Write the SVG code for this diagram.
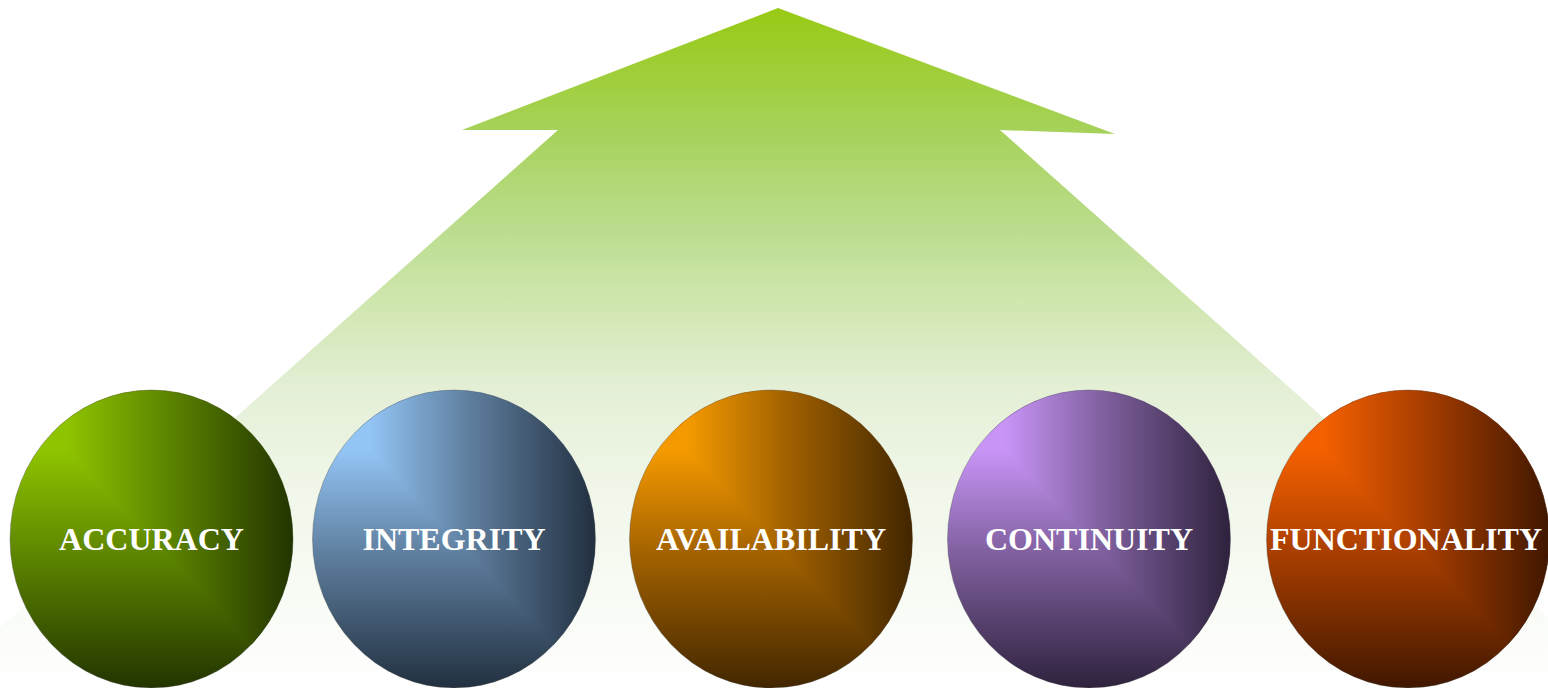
<svg xmlns="http://www.w3.org/2000/svg" width="1548" height="688" viewBox="0 0 1548 688">
  <style>
    .label { font-family: "Liberation Serif", "Times New Roman", serif; font-weight: bold; font-size: 32px; fill: #ffffff; text-anchor: middle; }
    .rim { fill: none; stroke: #4a4a4a; stroke-opacity: 0.35; stroke-width: 1; }
  </style>
  <defs>
    <linearGradient id="arrowFill" gradientUnits="userSpaceOnUse" x1="0" y1="8" x2="0" y2="688">
      <stop offset="0" stop-color="#98ca14"/>
      <stop offset="0.18" stop-color="#a6d25a"/>
      <stop offset="0.33" stop-color="#bcdd90"/>
      <stop offset="0.43" stop-color="#cfe6ae"/>
      <stop offset="0.56" stop-color="#e4efd6"/>
      <stop offset="0.72" stop-color="#f1f7ea"/>
      <stop offset="1" stop-color="#ffffff"/>
    </linearGradient>
    <clipPath id="disc" clipPathUnits="userSpaceOnUse">
      <ellipse cx="0" cy="0" rx="141.5" ry="149"/>
    </clipPath>
    <!-- green -->
    <linearGradient id="gH1" x1="0" y1="0" x2="1" y2="0"><stop offset="0" stop-color="#8cc000"/><stop offset="0.2" stop-color="#8fc400"/><stop offset="0.55" stop-color="#5e8600"/><stop offset="1" stop-color="#223400"/></linearGradient>
    <linearGradient id="gV1" x1="0" y1="0" x2="0" y2="1"><stop offset="0" stop-color="#8cc000"/><stop offset="0.2" stop-color="#8fc400"/><stop offset="0.55" stop-color="#5e8600"/><stop offset="1" stop-color="#223400"/></linearGradient>
    <!-- blue -->
    <linearGradient id="gH2" x1="0" y1="0" x2="1" y2="0"><stop offset="0" stop-color="#8fc0f0"/><stop offset="0.2" stop-color="#93c5f5"/><stop offset="0.55" stop-color="#5f7f9f"/><stop offset="1" stop-color="#223040"/></linearGradient>
    <linearGradient id="gV2" x1="0" y1="0" x2="0" y2="1"><stop offset="0" stop-color="#8fc0f0"/><stop offset="0.2" stop-color="#93c5f5"/><stop offset="0.55" stop-color="#5f7f9f"/><stop offset="1" stop-color="#223040"/></linearGradient>
    <!-- orange -->
    <linearGradient id="gH3" x1="0" y1="0" x2="1" y2="0"><stop offset="0" stop-color="#f09400"/><stop offset="0.2" stop-color="#f59a00"/><stop offset="0.55" stop-color="#a36200"/><stop offset="1" stop-color="#422600"/></linearGradient>
    <linearGradient id="gV3" x1="0" y1="0" x2="0" y2="1"><stop offset="0" stop-color="#f09400"/><stop offset="0.2" stop-color="#f59a00"/><stop offset="0.55" stop-color="#a36200"/><stop offset="1" stop-color="#422600"/></linearGradient>
    <!-- purple -->
    <linearGradient id="gH4" x1="0" y1="0" x2="1" y2="0"><stop offset="0" stop-color="#c490f2"/><stop offset="0.2" stop-color="#c895f7"/><stop offset="0.55" stop-color="#80609f"/><stop offset="1" stop-color="#2e223d"/></linearGradient>
    <linearGradient id="gV4" x1="0" y1="0" x2="0" y2="1"><stop offset="0" stop-color="#c490f2"/><stop offset="0.2" stop-color="#c895f7"/><stop offset="0.55" stop-color="#80609f"/><stop offset="1" stop-color="#2e223d"/></linearGradient>
    <!-- red-orange -->
    <linearGradient id="gH5" x1="0" y1="0" x2="1" y2="0"><stop offset="0" stop-color="#f05c00"/><stop offset="0.2" stop-color="#f56000"/><stop offset="0.55" stop-color="#a83e00"/><stop offset="1" stop-color="#401700"/></linearGradient>
    <linearGradient id="gV5" x1="0" y1="0" x2="0" y2="1"><stop offset="0" stop-color="#f05c00"/><stop offset="0.2" stop-color="#f56000"/><stop offset="0.55" stop-color="#a83e00"/><stop offset="1" stop-color="#401700"/></linearGradient>
  </defs>

  <rect x="0" y="0" width="1548" height="688" fill="#ffffff"/>

  <g id="connectors">
    <path id="big-arrow" d="M778,8 L1115,134 L1000,130 L1627,688 L-68,688 L558,130 L462,130 Z" fill="url(#arrowFill)"/>
  </g>

  <g id="node-accuracy" transform="translate(151.5,539)">
    <ellipse cx="0" cy="0" rx="141.5" ry="149" fill="url(#gV1)"/>
    <path d="M-141.5,-149 L141.5,-149 L141.5,149 Z" fill="url(#gH1)" clip-path="url(#disc)"/>
    <ellipse class="rim" cx="0" cy="0" rx="141.5" ry="149"/>
    <text class="label" x="0" y="11">ACCURACY</text>
  </g>

  <g id="node-integrity" transform="translate(454,539)">
    <ellipse cx="0" cy="0" rx="141.5" ry="149" fill="url(#gV2)"/>
    <path d="M-141.5,-149 L141.5,-149 L141.5,149 Z" fill="url(#gH2)" clip-path="url(#disc)"/>
    <ellipse class="rim" cx="0" cy="0" rx="141.5" ry="149"/>
    <text class="label" x="0" y="11">INTEGRITY</text>
  </g>

  <g id="node-availability" transform="translate(771,539)">
    <ellipse cx="0" cy="0" rx="141.5" ry="149" fill="url(#gV3)"/>
    <path d="M-141.5,-149 L141.5,-149 L141.5,149 Z" fill="url(#gH3)" clip-path="url(#disc)"/>
    <ellipse class="rim" cx="0" cy="0" rx="141.5" ry="149"/>
    <text class="label" x="0" y="11">AVAILABILITY</text>
  </g>

  <g id="node-continuity" transform="translate(1089,539)">
    <ellipse cx="0" cy="0" rx="141.5" ry="149" fill="url(#gV4)"/>
    <path d="M-141.5,-149 L141.5,-149 L141.5,149 Z" fill="url(#gH4)" clip-path="url(#disc)"/>
    <ellipse class="rim" cx="0" cy="0" rx="141.5" ry="149"/>
    <text class="label" x="0" y="11">CONTINUITY</text>
  </g>

  <g id="node-functionality" transform="translate(1408,539)">
    <ellipse cx="0" cy="0" rx="141.5" ry="149" fill="url(#gV5)"/>
    <path d="M-141.5,-149 L141.5,-149 L141.5,149 Z" fill="url(#gH5)" clip-path="url(#disc)"/>
    <ellipse class="rim" cx="0" cy="0" rx="141.5" ry="149"/>
    <text class="label" x="-2" y="11">FUNCTIONALITY</text>
  </g>
</svg>
